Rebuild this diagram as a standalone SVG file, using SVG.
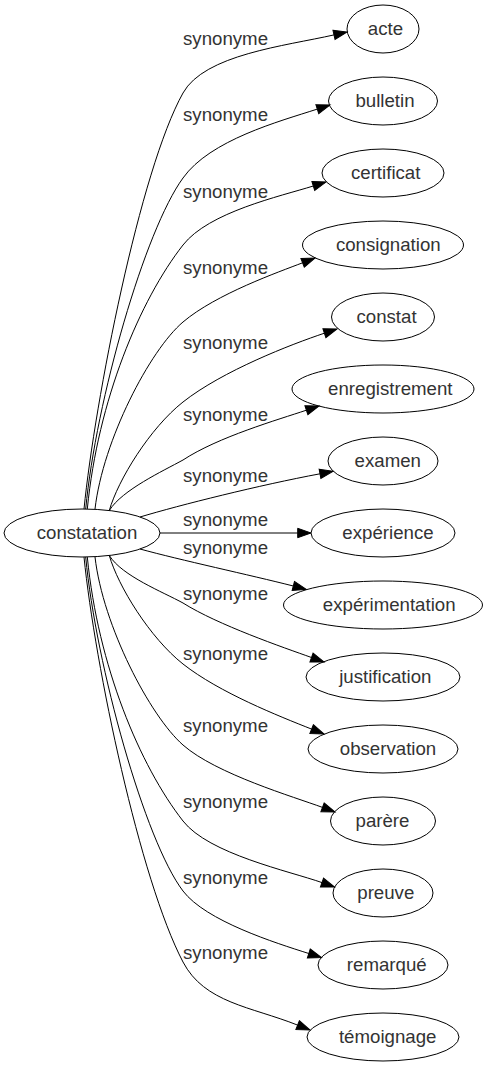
<svg xmlns="http://www.w3.org/2000/svg" width="488" height="1067" viewBox="0 0 488 1067">
<style>
.node ellipse{fill:none;stroke:#000;stroke-width:1}
.node text{font-family:"Liberation Sans",Arial,sans-serif;font-size:18.67px;fill:#333;text-anchor:middle}
.edges path{fill:none;stroke:#000;stroke-width:1;marker-end:url(#ah)}
.lbl text{font-family:"Liberation Sans",Arial,sans-serif;font-size:18.67px;fill:#333;text-anchor:middle}
</style>
<defs>
<marker id="ah" viewBox="0 0 13.3 9.4" markerWidth="13.3" markerHeight="9.4" refX="0" refY="4.7" orient="auto" markerUnits="userSpaceOnUse" overflow="visible">
<path d="M0,0 L13.3,4.7 L0,9.4 z" fill="#000" stroke="#000" stroke-width="1"/>
</marker>
</defs>
<rect x="0" y="0" width="488" height="1067" fill="#fff"/>
<g id="connectors" class="edges">
<path d="M84,509 C95,400 140,170 183,93 C204.5,54.5 285,46 334,34.9"/>
<path d="M85.7,509 C96,400 145,230 183,178 C210,140 279.2,121.4 317.3,109.1"/>
<path d="M87.3,509 C98,400 140,300 183,245 C208.8,212 279.9,196.4 313.3,186"/>
<path d="M95,509 C103,440 150,350 183,322 C216,294 279.2,271.8 302.6,262.8"/>
<path d="M109.3,510.5 C118,480 150,428 183,402 C222.6,370.8 291.2,344.3 324.4,333.2"/>
<path d="M109.3,510.5 C122,490 163,471 183,460 C218,437 278,419.7 306.4,410.2"/>
<path d="M140,517 C180,505 260,485 320,473.8"/>
<path d="M160,533 L297.7,533"/>
<path d="M140,549 C180,560 250,575 293.3,586"/>
<path d="M109.3,555.5 C122,576 163,592 183,603 C218,625 283.2,647.4 311.5,657.5"/>
<path d="M109.3,555.5 C118,586 150,638 183,664 C219.3,692.6 279.1,716.2 311.6,729.1"/>
<path d="M95,557 C103,626 150,716 183,745 C216,774 294.3,797 322.5,807.4"/>
<path d="M87.3,557 C98,666 140,766 183,821 C208.8,854 289,871 322,882.6"/>
<path d="M85.7,557 C96,666 145,841 183,891 C205.8,921 275.4,942.9 308.8,953.5"/>
<path d="M84,557 C95,666 140,880 183,962 C204.5,1003 251.1,1006.6 297.6,1025.1"/>
</g>
<g id="edge-labels" class="lbl">
<text x="225.5" y="44.5">synonyme</text>
<text x="225.5" y="120.5">synonyme</text>
<text x="225.5" y="197.5">synonyme</text>
<text x="225.5" y="274">synonyme</text>
<text x="225.5" y="349">synonyme</text>
<text x="225.5" y="420.5">synonyme</text>
<text x="225.5" y="482">synonyme</text>
<text x="225.5" y="526">synonyme</text>
<text x="225.5" y="554">synonyme</text>
<text x="225.5" y="599.5">synonyme</text>
<text x="225.5" y="659.5">synonyme</text>
<text x="225.5" y="732">synonyme</text>
<text x="225.5" y="808">synonyme</text>
<text x="225.5" y="884">synonyme</text>
<text x="225.5" y="959">synonyme</text>
</g>
<g id="constatation" class="node"><ellipse cx="82" cy="533" rx="78" ry="24"/><text x="87" y="539">constatation</text></g>
<g id="acte" class="node"><ellipse cx="383" cy="29" rx="36" ry="24"/><text x="385.5" y="35">acte</text></g>
<g id="bulletin" class="node"><ellipse cx="383" cy="101" rx="54.5" ry="24"/><text x="385" y="107">bulletin</text></g>
<g id="certificat" class="node"><ellipse cx="383" cy="173" rx="61" ry="24"/><text x="385.7" y="179">certificat</text></g>
<g id="consignation" class="node"><ellipse cx="383" cy="245" rx="80.5" ry="24"/><text x="388.3" y="251">consignation</text></g>
<g id="constat" class="node"><ellipse cx="383" cy="317" rx="51.5" ry="24"/><text x="386.5" y="323">constat</text></g>
<g id="enregistrement" class="node"><ellipse cx="383" cy="389" rx="91" ry="24"/><text x="390.3" y="395">enregistrement</text></g>
<g id="examen" class="node"><ellipse cx="383" cy="461" rx="55" ry="24"/><text x="387.8" y="467">examen</text></g>
<g id="experience" class="node"><ellipse cx="383" cy="533" rx="72" ry="24"/><text x="388" y="539">expérience</text></g>
<g id="experimentation" class="node"><ellipse cx="383" cy="605" rx="99.5" ry="24"/><text x="389.2" y="611">expérimentation</text></g>
<g id="justification" class="node"><ellipse cx="383" cy="677" rx="77" ry="24"/><text x="385.3" y="683">justification</text></g>
<g id="observation" class="node"><ellipse cx="383" cy="749" rx="75" ry="24"/><text x="388" y="755">observation</text></g>
<g id="parere" class="node"><ellipse cx="383" cy="821" rx="52.5" ry="24"/><text x="382.5" y="827">parère</text></g>
<g id="preuve" class="node"><ellipse cx="383" cy="893" rx="50" ry="24"/><text x="385.8" y="899">preuve</text></g>
<g id="remarque" class="node"><ellipse cx="383" cy="965" rx="65" ry="24"/><text x="386.8" y="971">remarqué</text></g>
<g id="temoignage" class="node"><ellipse cx="383" cy="1037" rx="76" ry="24"/><text x="387.7" y="1043">témoignage</text></g>
</svg>
